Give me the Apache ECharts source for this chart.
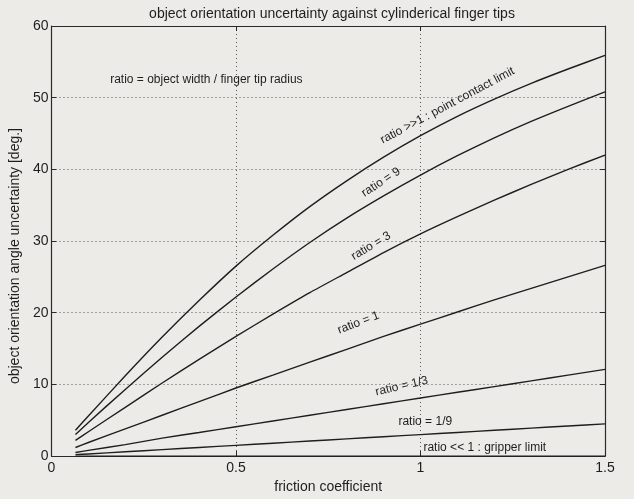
<!DOCTYPE html>
<html><head><meta charset="utf-8">
<script src="https://cdn.jsdelivr.net/npm/echarts/dist/echarts.min.js"></script>
<style>html,body{margin:0;padding:0;background:#ecebe8;}#c{width:634px;height:499px;}</style>
</head><body><div id="c"></div>
<script>
// ---- data ----
const titleText = 'object orientation uncertainty against cylinderical finger tips';
const xName = 'friction coefficient';
const yName = 'object orientation angle uncertainty [deg.]';
const xTicks = [0, 0.5, 1, 1.5];
const yTicks = [0, 10, 20, 30, 40, 50, 60];

const mu = [0.065, 0.1, 0.2, 0.3, 0.4, 0.5, 0.6, 0.7, 0.8, 0.9, 1.0, 1.1, 1.2, 1.3, 1.4, 1.5];
const ratioPoint = [3.6, 5.6, 11.2, 16.6, 21.7, 26.5, 30.8, 34.8, 38.4, 41.7, 44.7, 47.4, 49.8, 52.0, 54.0, 55.9];
const ratio9     = [3.0, 4.7, 9.3, 13.8, 18.1, 22.2, 26.1, 29.8, 33.2, 36.3, 39.2, 41.9, 44.4, 46.7, 48.8, 50.8];
const ratio3     = [2.2, 3.4, 6.8, 10.2, 13.5, 16.7, 19.8, 22.8, 25.6, 28.4, 31.0, 33.4, 35.7, 37.9, 40.0, 42.0];
const ratio1     = [1.2, 1.9, 3.8, 5.7, 7.6, 9.5, 11.3, 13.1, 14.9, 16.7, 18.4, 20.1, 21.8, 23.4, 25.0, 26.6];
const ratio1_3   = [0.5, 0.8, 1.6, 2.5, 3.3, 4.1, 4.9, 5.7, 6.5, 7.3, 8.1, 8.9, 9.7, 10.5, 11.3, 12.1];
const ratio1_9   = [0.2, 0.3, 0.6, 0.9, 1.2, 1.5, 1.8, 2.1, 2.4, 2.7, 3.0, 3.3, 3.6, 3.9, 4.2, 4.5];
const ratioGrip  = [0, 0, 0, 0, 0, 0, 0, 0, 0, 0, 0, 0, 0, 0, 0, 0];
const curves = [ratioPoint, ratio9, ratio3, ratio1, ratio1_3, ratio1_9, ratioGrip];
const curveNames = ['ratio >>1', 'ratio = 9', 'ratio = 3', 'ratio = 1', 'ratio = 1/3', 'ratio = 1/9', 'ratio << 1'];

// annotation texts and where they sit (data coords)
const annTexts = ['ratio = object width / finger tip radius', 'ratio >>1 : point contact limit', 'ratio = 9', 'ratio = 3', 'ratio = 1', 'ratio = 1/3', 'ratio = 1/9', 'ratio << 1 : gripper limit'];
const annX = [0.159, 1.073, 0.893, 0.866, 0.832, 0.949, 1.013, 1.008];
const annY = [52.5, 48.9, 38.2, 29.3, 18.6, 9.75, 4.86, 1.2];
const annRot = [0, 28, 33, 31, 21, 13, 0, 0];
const annAlign = ['left', 'center', 'center', 'center', 'center', 'center', 'center', 'left'];

// ---- chart ----
const FONT = '"Liberation Sans", Arial, Helvetica, sans-serif';
const INK = '#1e1e1e';
const chart = echarts.init(document.getElementById('c'), null, {renderer: 'canvas'});

const axisCommon = {
  type: 'value',
  axisLine: {show: true, onZero: false, lineStyle: {color: '#2a2a2a', width: 1.2}},
  axisTick: {show: true, inside: true, length: 5, lineStyle: {color: '#2a2a2a', width: 1}},
};

const option = {
  backgroundColor: '#ecebe8',
  animation: false,
  title: {
    text: titleText, left: 327, top: 2, textAlign: 'center',
    textStyle: {fontFamily: FONT, fontSize: 14, fontWeight: 'normal', color: INK}
  },
  grid: {left: 49, right: 29, top: 26, bottom: 41, containLabel: false},
  xAxis: [
    Object.assign({}, axisCommon, {
      position: 'bottom', min: xTicks[0], max: xTicks[xTicks.length - 1], interval: 0.5,
      axisLabel: {show: true, fontFamily: FONT, fontSize: 14, color: INK, margin: 5,
        showMinLabel: true, showMaxLabel: true},
      splitLine: {show: true, lineStyle: {type: [1, 3], color: '#555', width: 1}},
      name: xName, nameLocation: 'middle', nameGap: 23,
      nameTextStyle: {fontFamily: FONT, fontSize: 14, color: INK}
    }),
    Object.assign({}, axisCommon, {
      position: 'top', min: xTicks[0], max: xTicks[xTicks.length - 1], interval: 0.5,
      axisLabel: {show: false}, splitLine: {show: false}
    })
  ],
  yAxis: [
    Object.assign({}, axisCommon, {
      position: 'left', min: yTicks[0], max: yTicks[yTicks.length - 1], interval: 10,
      axisLabel: {show: true, fontFamily: FONT, fontSize: 14, color: INK, margin: 3,
        showMinLabel: true, showMaxLabel: true},
      splitLine: {show: true, lineStyle: {type: [1, 3], color: '#555', width: 1}},
      name: yName, nameLocation: 'middle', nameGap: 21, nameRotate: 90,
      nameTextStyle: {fontFamily: FONT, fontSize: 14, color: INK, padding: [0, 30, 0, 0]}
    }),
    Object.assign({}, axisCommon, {
      position: 'right', min: yTicks[0], max: yTicks[yTicks.length - 1], interval: 10,
      axisLabel: {show: false}, splitLine: {show: false}
    })
  ],
  series: curves.map((vals, k) => ({
    name: curveNames[k],
    type: 'line',
    xAxisIndex: 0, yAxisIndex: 0,
    symbol: 'none', showSymbol: false, smooth: 0.2,
    lineStyle: {color: INK, width: 1.4},
    data: mu.map((m, i) => [m, vals[i]]),
    z: 3
  }))
};
chart.setOption(option);

const els = annTexts.map((t, i) => {
  const p = chart.convertToPixel({xAxisIndex: 0, yAxisIndex: 0}, [annX[i], annY[i]]);
  return {
    type: 'text', x: p[0], y: p[1], rotation: annRot[i] * Math.PI / 180, z: 10,
    style: {text: t, font: '12px ' + FONT, fill: INK,
      align: annAlign[i], textAlign: annAlign[i], verticalAlign: 'middle', textVerticalAlign: 'middle'}
  };
});
chart.setOption({graphic: {elements: els}});
</script>
</body></html>
